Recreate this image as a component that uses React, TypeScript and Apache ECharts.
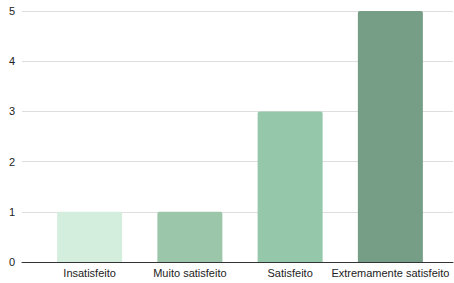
import React, { useEffect, useRef } from "react";
import * as echarts from "echarts";

const categories = ["Insatisfeito", "Muito satisfeito", "Satisfeito", "Extremamente satisfeito"];
const values = [1, 1, 3, 5];
const barColors = ["#d3eedd", "#9bc6aa", "#95c8aa", "#769e86"];
const yTicks = [0, 1, 2, 3, 4, 5];

export default function App() {
  const ref = useRef<HTMLDivElement>(null);
  useEffect(() => {
    const chart = echarts.init(ref.current!, null, { renderer: "svg" });
    const font = { fontFamily: "Liberation Sans, Arial, sans-serif", fontSize: 11, color: "#222" };
    chart.setOption({
      animation: false,
      grid: [
        { left: 22, right: 1, top: 11, bottom: 21 },
        { left: 39.5, right: 13.5, top: 11, bottom: 21 },
      ],
      xAxis: [
        {
          gridIndex: 0,
          type: "category",
          data: categories,
          axisLine: { show: true, lineStyle: { color: "#333", width: 1 } },
          axisTick: { show: false },
          axisLabel: { show: false },
        },
        {
          gridIndex: 1,
          type: "category",
          data: categories,
          axisLine: { show: false },
          axisTick: { show: false },
          axisLabel: { ...font, margin: 5, interval: 0 },
        },
      ],
      yAxis: [
        {
          gridIndex: 0,
          type: "value",
          min: yTicks[0],
          max: yTicks[yTicks.length - 1],
          interval: 1,
          axisLine: { show: false },
          axisTick: { show: false },
          axisLabel: { ...font, margin: 7 },
          splitLine: { lineStyle: { color: "#dedede", width: 1 } },
        },
        {
          gridIndex: 1,
          type: "value",
          min: yTicks[0],
          max: yTicks[yTicks.length - 1],
          interval: 1,
          show: false,
          splitLine: { show: false },
        },
      ],
      series: [
        {
          type: "bar",
          xAxisIndex: 1,
          yAxisIndex: 1,
          barWidth: 65,
          data: values.map((v, i) => ({
            value: v,
            itemStyle: { color: barColors[i], borderRadius: [2, 2, 0, 0] },
          })),
          z: 3,
        },
      ],
    });
    return () => chart.dispose();
  }, []);
  return <div ref={ref} style={{ width: 454, height: 283, position: "absolute", left: 0, top: 0 }} />;
}
